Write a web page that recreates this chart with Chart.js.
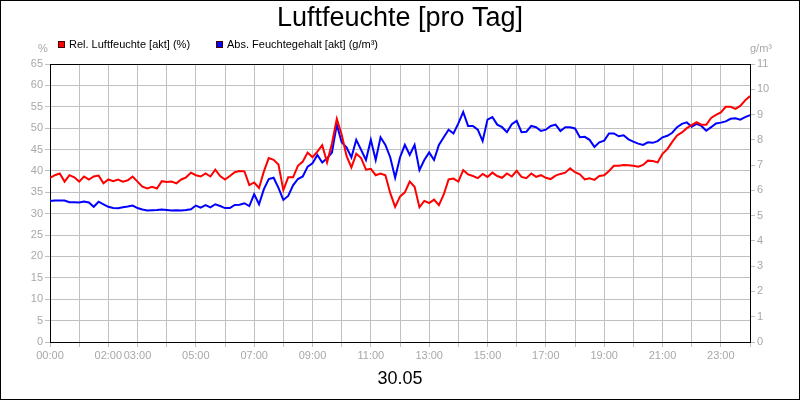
<!DOCTYPE html>
<html>
<head>
<meta charset="utf-8">
<title>Luftfeuchte [pro Tag]</title>
<script src="https://cdn.jsdelivr.net/npm/chart.js@4.4.1/dist/chart.umd.min.js"></script>
<style>
  html, body { margin: 0; padding: 0; background: #fff; }
</style>
</head>
<body>
<canvas id="humidityChart" width="800" height="400"></canvas>
<script>
const chartTitle = 'Luftfeuchte [pro Tag]';
const dayLabel = '30.05';
const relLabel = 'Rel. Luftfeuchte [akt] (%)';
const absLabel = 'Abs. Feuchtegehalt [akt] (g/m³)';
const leftUnit = '%';
const rightUnit = 'g/m³';
const stepMinutes = 10;
const shownHours = [0, 2, 3, 5, 7, 9, 11, 13, 15, 17, 19, 21, 23];

// rel. humidity in %, one value per 10 minutes, one row per hour
const relHumidity = [
  38.4, 39.0, 39.4, 37.5, 39.0, 38.5,
  37.5, 38.7, 38.0, 38.7, 38.9, 37.1,
  38.0, 37.6, 38.0, 37.5, 37.8, 38.7,
  37.5, 36.3, 35.9, 36.3, 35.9, 37.6,
  37.4, 37.5, 37.1, 38.0, 38.5, 39.6,
  39.0, 38.7, 39.4, 38.7, 40.3, 38.8,
  38.0, 38.8, 39.7, 40.0, 39.9, 36.7,
  37.3, 36.0, 39.9, 43.0, 42.6, 41.5,
  35.5, 38.5, 38.5, 41.2, 42.2, 44.3,
  43.2, 44.5, 46.0, 42.0, 46.4, 52.2,
  48.5, 43.5, 40.8, 44.0, 43.0, 40.3,
  40.5, 39.0, 39.4, 39.0, 34.8, 31.6,
  34.0, 35.0, 37.5, 36.3, 31.5, 33.0,
  32.5, 33.3, 32.0, 34.5, 38.0, 38.2,
  37.5, 40.2, 39.2, 38.8, 38.3, 39.3,
  38.6, 39.6, 38.8, 38.4, 39.4, 38.7,
  40.0, 38.6, 38.3, 39.4, 38.6, 39.0,
  38.4, 38.1, 38.9, 39.3, 39.6, 40.6,
  39.7, 39.2, 38.0, 38.3, 37.9, 38.8,
  39.0, 40.0, 41.2, 41.2, 41.4, 41.3,
  41.2, 41.0, 41.4, 42.4, 42.3, 42.0,
  44.0, 45.1, 46.8, 48.3, 49.0, 50.0,
  50.7, 51.4, 50.8, 50.8, 52.4, 53.1,
  53.7, 55.0, 55.0, 54.5, 55.2, 56.5,
  57.5
];

// abs. humidity in g/m³, same timing
const absHumidity = [
  5.58, 5.60, 5.60, 5.60, 5.53, 5.53,
  5.52, 5.56, 5.52, 5.35, 5.55, 5.45,
  5.35, 5.30, 5.29, 5.33, 5.36, 5.40,
  5.30, 5.24, 5.20, 5.21, 5.22, 5.24,
  5.22, 5.20, 5.21, 5.20, 5.22, 5.25,
  5.40, 5.32, 5.42, 5.33, 5.45, 5.38,
  5.30, 5.30, 5.42, 5.43, 5.49, 5.38,
  5.85, 5.45, 6.05, 6.45, 6.50, 6.10,
  5.62, 5.78, 6.20, 6.45, 6.55, 6.94,
  7.07, 7.40, 7.10, 7.27, 7.50, 8.60,
  7.90, 7.70, 7.30, 8.00, 7.60, 7.20,
  8.00, 7.20, 8.10, 7.80, 7.30, 6.50,
  7.30, 7.80, 7.40, 7.80, 6.80, 7.20,
  7.50, 7.20, 7.80, 8.10, 8.40, 8.25,
  8.65, 9.10, 8.55, 8.55, 8.40, 7.95,
  8.80, 8.90, 8.60, 8.50, 8.30, 8.62,
  8.75, 8.30, 8.32, 8.55, 8.50, 8.35,
  8.40, 8.55, 8.60, 8.35, 8.50, 8.50,
  8.45, 8.10, 8.12, 8.00, 7.72, 7.90,
  7.97, 8.25, 8.25, 8.14, 8.18, 8.02,
  7.93, 7.85, 7.80, 7.90, 7.88, 7.95,
  8.10, 8.16, 8.28, 8.50, 8.63, 8.69,
  8.52, 8.63, 8.55, 8.36, 8.50, 8.65,
  8.68, 8.73, 8.83, 8.85, 8.80, 8.90,
  8.98
];

const fontFamily = 'Arial, "Liberation Sans", sans-serif';
const tickGray = '#a8a8a8';
const gridGray = '#c0c0c0';

const toPoints = (values) => values.map((v, i) => ({ x: i * stepMinutes / 60, y: v }));

// frame, legend and unit labels
const decorations = {
  id: 'decorations',
  afterDraw(chart) {
    const ctx = chart.ctx;
    const a = chart.chartArea;
    ctx.save();
    ctx.strokeStyle = '#000';
    ctx.lineWidth = 1;
    ctx.strokeRect(0.5, 0.5, 799, 399);
    ctx.beginPath();
    ctx.moveTo(a.left, a.top + 0.5);
    ctx.lineTo(a.right, a.top + 0.5);
    ctx.stroke();

    // legend
    ctx.font = '11px ' + fontFamily;
    ctx.textBaseline = 'middle';
    ctx.textAlign = 'left';
    const legendX = [58, 216];
    chart.data.datasets.forEach((ds, i) => {
      const x = legendX[i];
      ctx.fillStyle = ds.borderColor;
      ctx.fillRect(x, 41, 7, 7);
      ctx.strokeStyle = '#400';
      ctx.strokeRect(x + 0.5, 41.5, 6, 6);
      ctx.fillStyle = '#000';
      ctx.fillText(ds.label, x + 11, 45);
    });

    // unit labels
    ctx.fillStyle = tickGray;
    ctx.textAlign = 'center';
    ctx.fillText(leftUnit, 43, 49);
    ctx.fillText(rightUnit, 761, 49);
    ctx.restore();
  }
};

const ctx = document.getElementById('humidityChart').getContext('2d');
const humidityChart = new Chart(ctx, {
  type: 'line',
  data: {
    datasets: [{
      label: relLabel,
      data: toPoints(relHumidity),
      borderColor: '#ff0000',
      borderWidth: 2,
      pointRadius: 0,
      tension: 0,
      yAxisID: 'y'
    }, {
      label: absLabel,
      data: toPoints(absHumidity),
      borderColor: '#0000ff',
      borderWidth: 2,
      pointRadius: 0,
      tension: 0,
      yAxisID: 'y1'
    }]
  },
  options: {
    responsive: false,
    animation: false,
    devicePixelRatio: 1,
    layout: { padding: 0 },
    plugins: {
      legend: { display: false },
      tooltip: { enabled: false },
      title: {
        display: true,
        text: chartTitle,
        color: '#000',
        font: { family: fontFamily, size: 27, weight: 'normal' },
        padding: { top: 2, bottom: 29.6 }
      }
    },
    scales: {
      x: {
        type: 'linear',
        min: 0,
        max: 24,
        afterFit: (scale) => { scale.height = 58; },
        ticks: {
          stepSize: 1,
          autoSkip: false,
          maxRotation: 0,
          padding: 2,
          color: tickGray,
          font: { family: fontFamily, size: 11 },
          callback: (v) => shownHours.includes(v) ? String(v).padStart(2, '0') + ':00' : ''
        },
        grid: { color: gridGray, tickLength: 5 },
        border: { color: '#000', width: 1 },
        title: {
          display: true,
          text: dayLabel,
          color: '#000',
          font: { family: fontFamily, size: 18 },
          padding: { top: 0, bottom: 10 }
        }
      },
      y: {
        position: 'left',
        min: 0,
        max: 65,
        afterFit: (scale) => { scale.width = 50; },
        ticks: {
          stepSize: 5,
          padding: 2,
          color: tickGray,
          font: { family: fontFamily, size: 11 }
        },
        grid: { color: gridGray, tickLength: 5 },
        border: { color: '#000', width: 1 }
      },
      y1: {
        position: 'right',
        min: 0,
        max: 11,
        afterFit: (scale) => { scale.width = 50; },
        ticks: {
          stepSize: 1,
          padding: 2,
          color: tickGray,
          font: { family: fontFamily, size: 11 }
        },
        grid: { drawOnChartArea: false, color: gridGray, tickLength: 5 },
        border: { color: '#000', width: 1 }
      }
    }
  },
  plugins: [decorations]
});
</script>
</body>
</html>
